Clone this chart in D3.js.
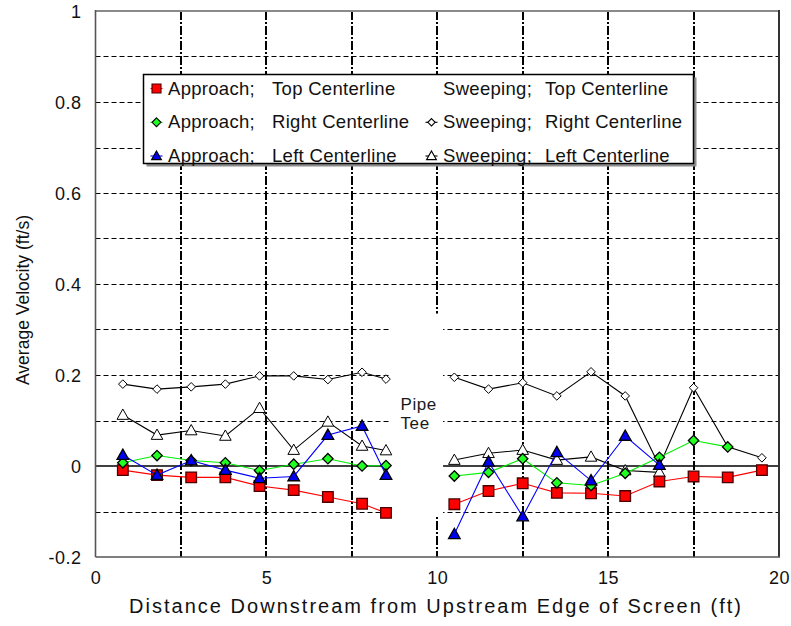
<!DOCTYPE html>
<html>
<head>
<meta charset="utf-8">
<script src="https://cdn.jsdelivr.net/npm/d3@7"></script>
<style>
  html, body { margin: 0; padding: 0; background: #fff; }
  svg { display: block; font-family: "Liberation Sans", Arial, Helvetica, sans-serif; }
</style>
</head>
<body>
<svg id="chart" width="791" height="626"></svg>
<script>
// Measurement stations (ft downstream of the screen's upstream edge)
const xUpstream = [0.8, 1.8, 2.8, 3.8, 4.8, 5.8, 6.8, 7.8, 8.5];
const xDownstream = [10.5, 11.5, 12.5, 13.5, 14.5, 15.5, 16.5, 17.5, 18.5, 19.5];

// Average velocity (ft/s), upstream / downstream of the pipe tee
const approachTopUp = [-0.009, -0.020, -0.025, -0.025, -0.044, -0.053, -0.068, -0.083, -0.103];
const approachTopDown = [-0.084, -0.055, -0.038, -0.059, -0.060, -0.066, -0.034, -0.023, -0.025, -0.009];
const approachRightUp = [0.007, 0.023, 0.012, 0.007, -0.010, 0.004, 0.016, 0.000, 0.001];
const approachRightDown = [-0.022, -0.014, 0.016, -0.037, -0.043, -0.016, 0.019, 0.056, 0.042];
const approachLeftUp = [0.024, -0.020, 0.012, -0.009, -0.027, -0.023, 0.068, 0.088, -0.020];
const approachLeftDown = [-0.150, 0.009, -0.111, 0.030, -0.032, 0.066, 0.002];
const sweepingTopUp = [];
const sweepingTopDown = [];
const sweepingRightUp = [0.180, 0.169, 0.174, 0.180, 0.198, 0.198, 0.190, 0.206, 0.191];
const sweepingRightDown = [0.195, 0.169, 0.183, 0.154, 0.207, 0.154, 0.000, 0.172, 0.042, 0.018];
const sweepingLeftUp = [0.112, 0.068, 0.078, 0.066, 0.127, 0.035, 0.097, 0.044, 0.034];
const sweepingLeftDown = [0.013, 0.028, 0.035, 0.013, 0.020, -0.010, -0.014];

// Axis ticks and labels
const xTickValues = [0, 5, 10, 15, 20];
const xTickLabels = ["0", "5", "10", "15", "20"];
const yTickValues = [-0.2, 0, 0.2, 0.4, 0.6, 0.8, 1];
const yTickLabels = ["-0.2", "0", "0.2", "0.4", "0.6", "0.8", "1"];
const yGridValues = [-0.1, 0.1, 0.2, 0.3, 0.4, 0.5, 0.6, 0.7, 0.8, 0.9];
const xGridValues = [2.5, 5, 7.5, 10, 12.5, 15, 17.5];

const xTitle = "Distance Downstream from Upstream Edge of Screen (ft)";
const yTitle = "Average Velocity (ft/s)";
const gapLabel = ["Pipe", "Tee"];
// Extent of the pipe tee gap in data units
const gapX = [8.6, 10.17];
const gapY = [-0.110, 0.335];

// Series table built from the arrays above
const series = [
  { group: "Sweeping;", where: "Top Centerline", shape: null, up: sweepingTopUp, down: sweepingTopDown, line: "#000", fill: "#fff" },
  { group: "Sweeping;", where: "Right Centerline", shape: "diamondSmall", up: sweepingRightUp, down: sweepingRightDown, line: "#000", fill: "#fff" },
  { group: "Sweeping;", where: "Left Centerline", shape: "triangleOpen", up: sweepingLeftUp, down: sweepingLeftDown, line: "#000", fill: "#fff" },
  { group: "Approach;", where: "Top Centerline", shape: "square", up: approachTopUp, down: approachTopDown, line: "#ff0000", fill: "#ff0000" },
  { group: "Approach;", where: "Right Centerline", shape: "diamond", up: approachRightUp, down: approachRightDown, line: "#00f000", fill: "#22ff22" },
  { group: "Approach;", where: "Left Centerline", shape: "triangle", up: approachLeftUp, down: approachLeftDown, line: "#0000ff", fill: "#0000ee" }
];

const shapes = {
  square: "M-5.3,-5.3h10.6v10.6h-10.6Z",
  diamond: "M0,-5.2L5.2,0L0,5.2L-5.2,0Z",
  diamondSmall: "M0,-4.3L4.3,0L0,4.3L-4.3,0Z",
  triangle: "M0,-6L5.8,4.3L-5.8,4.3Z",
  triangleOpen: "M0,-6L5.8,4.3L-5.8,4.3Z"
};
const shapeStroke = { square: "#4a0000", diamond: "#000", diamondSmall: "#000", triangle: "#000", triangleOpen: "#000" };

const svg = d3.select("#chart");
svg.append("rect").attr("width", 791).attr("height", 626).attr("fill", "#fff");

const x = d3.scaleLinear().domain([0, 20]).range([95.5, 779]);
const y = d3.scaleLinear().domain([-0.2, 1]).range([557, 11]);

// Grid lines
const grid = svg.append("g");
grid.selectAll("line.h").data(yGridValues).join("line")
  .attr("x1", x(0)).attr("x2", x(20))
  .attr("y1", d => Math.round(y(d)) + 0.5).attr("y2", d => Math.round(y(d)) + 0.5)
  .attr("stroke", "#000").attr("stroke-width", 1).attr("stroke-dasharray", "5,3");
grid.selectAll("line.v").data(xGridValues).join("line")
  .attr("x1", d => Math.round(x(d))).attr("x2", d => Math.round(x(d)))
  .attr("y1", y(1)).attr("y2", y(-0.2))
  .attr("stroke", "#000").attr("stroke-width", 2).attr("stroke-dasharray", "9,2,2,2");
grid.append("line")
  .attr("x1", x(0)).attr("x2", x(20)).attr("y1", y(0)).attr("y2", y(0))
  .attr("stroke", "#000").attr("stroke-width", 1.6);

// Gap in the record at the pipe tee
svg.append("rect")
  .attr("x", x(gapX[0])).attr("y", y(gapY[1]))
  .attr("width", x(gapX[1]) - x(gapX[0])).attr("height", y(gapY[0]) - y(gapY[1]))
  .attr("fill", "#fff");
svg.append("text")
  .attr("x", 400.5).attr("y", 409.5)
  .attr("font-size", 17).attr("letter-spacing", 0.6).attr("fill", "#1a1a1a")
  .selectAll("tspan").data(gapLabel).join("tspan")
  .attr("x", 400.5).attr("dy", (d, i) => i === 0 ? 0 : 19.2)
  .text(d => d);

// Plot frame
svg.append("line").attr("x1", x(0)).attr("x2", x(20)).attr("y1", y(1)).attr("y2", y(1))
  .attr("stroke", "#8a8a8a").attr("stroke-width", 2);
svg.append("line").attr("x1", x(20)).attr("x2", x(20)).attr("y1", y(1) - 1).attr("y2", y(-0.2))
  .attr("stroke", "#333").attr("stroke-width", 2);
svg.append("line").attr("x1", x(0)).attr("x2", x(20) + 1).attr("y1", y(-0.2)).attr("y2", y(-0.2))
  .attr("stroke", "#555").attr("stroke-width", 1.6);
svg.append("line").attr("x1", x(0)).attr("x2", x(0)).attr("y1", y(1) - 1).attr("y2", y(-0.2))
  .attr("stroke", "#555").attr("stroke-width", 1.6);

// Axes (labels only)
const yAxis = svg.append("g").attr("transform", `translate(${x(0)},0)`)
  .call(d3.axisLeft(y).tickValues(yTickValues).tickSize(0).tickPadding(14)
    .tickFormat((d, i) => yTickLabels[i]));
const xAxis = svg.append("g").attr("transform", `translate(0,${y(-0.2)})`)
  .call(d3.axisBottom(x).tickValues(xTickValues).tickSize(0).tickPadding(14)
    .tickFormat((d, i) => xTickLabels[i]));
[yAxis, xAxis].forEach(a => {
  a.select(".domain").remove();
  a.selectAll("text").attr("font-size", 18).attr("letter-spacing", 0.5)
    .attr("font-family", "Liberation Sans, Arial, sans-serif").attr("fill", "#111");
});
yAxis.selectAll("text").attr("dy", "0.36em");
xAxis.selectAll("text").attr("dy", "0.70em");

// Axis titles
svg.append("text").attr("x", 129).attr("y", 613)
  .attr("font-size", 20).attr("fill", "#111")
  .attr("textLength", 612).attr("lengthAdjust", "spacing")
  .text(xTitle);
svg.append("text").attr("transform", "rotate(-90)")
  .attr("x", -300).attr("y", 29).attr("text-anchor", "middle")
  .attr("font-size", 17.5).attr("fill", "#111")
  .attr("textLength", 170).attr("lengthAdjust", "spacingAndGlyphs")
  .text(yTitle);

// Data series: the record is broken at the pipe tee, so each side is its own line
const plot = svg.append("g");
const lineGen = d3.line().x(d => x(d[0])).y(d => y(d[1]));
series.forEach(s => {
  const segs = [s.up.map((v, i) => [xUpstream[i], v]), s.down.map((v, i) => [xDownstream[i], v])];
  const g = plot.append("g");
  segs.forEach(pts => {
    if (pts.length < 2) return;
    g.append("path").attr("d", lineGen(pts)).attr("fill", "none")
      .attr("stroke", s.line).attr("stroke-width", 1.1);
  });
  if (!s.shape) return;
  segs.flat().forEach(p => {
    g.append("path").attr("d", shapes[s.shape])
      .attr("transform", `translate(${x(p[0])},${y(p[1])})`)
      .attr("fill", s.fill).attr("stroke", shapeStroke[s.shape])
      .attr("stroke-width", s.fill === "#fff" ? 1 : 1.3);
  });
});

// Legend
const lg = svg.append("g");
const box = { x: 143.5, y: 74.5, w: 550, h: 89 };
lg.append("rect").attr("x", box.x + 3).attr("y", box.y + 3).attr("width", box.w).attr("height", box.h).attr("fill", "#8c8c8c");
lg.append("rect").attr("x", box.x).attr("y", box.y).attr("width", box.w).attr("height", box.h)
  .attr("fill", "#fff").attr("stroke", "#000").attr("stroke-width", 1.5);

const approach = series.filter(s => s.group === "Approach;");
const sweeping = series.filter(s => s.group === "Sweeping;");
const rowY = [88.5, 122.3, 156];
const cols = [
  { items: approach, marker: 156.5, group: 168, where: 272 },
  { items: sweeping, marker: 431.5, group: 443, where: 545 }
];
cols.forEach(c => {
  c.items.forEach((s, i) => {
    const cy = rowY[i];
    if (s.shape) {
      lg.append("line").attr("x1", c.marker - 6).attr("x2", c.marker + 6).attr("y1", cy).attr("y2", cy)
        .attr("stroke", s.line).attr("stroke-width", 1.1);
      lg.append("path").attr("d", shapes[s.shape])
        .attr("transform", `translate(${c.marker},${cy}) scale(0.85)`)
        .attr("fill", s.fill).attr("stroke", shapeStroke[s.shape]).attr("stroke-width", 1.3);
    }
    lg.append("text").attr("x", c.group).attr("y", cy + 6)
      .attr("font-size", 18.5).attr("letter-spacing", 0.3).attr("fill", "#111").text(s.group);
    lg.append("text").attr("x", c.where).attr("y", cy + 6)
      .attr("font-size", 18.5).attr("letter-spacing", 0.3).attr("fill", "#111").text(s.where);
  });
});
</script>
</body>
</html>
